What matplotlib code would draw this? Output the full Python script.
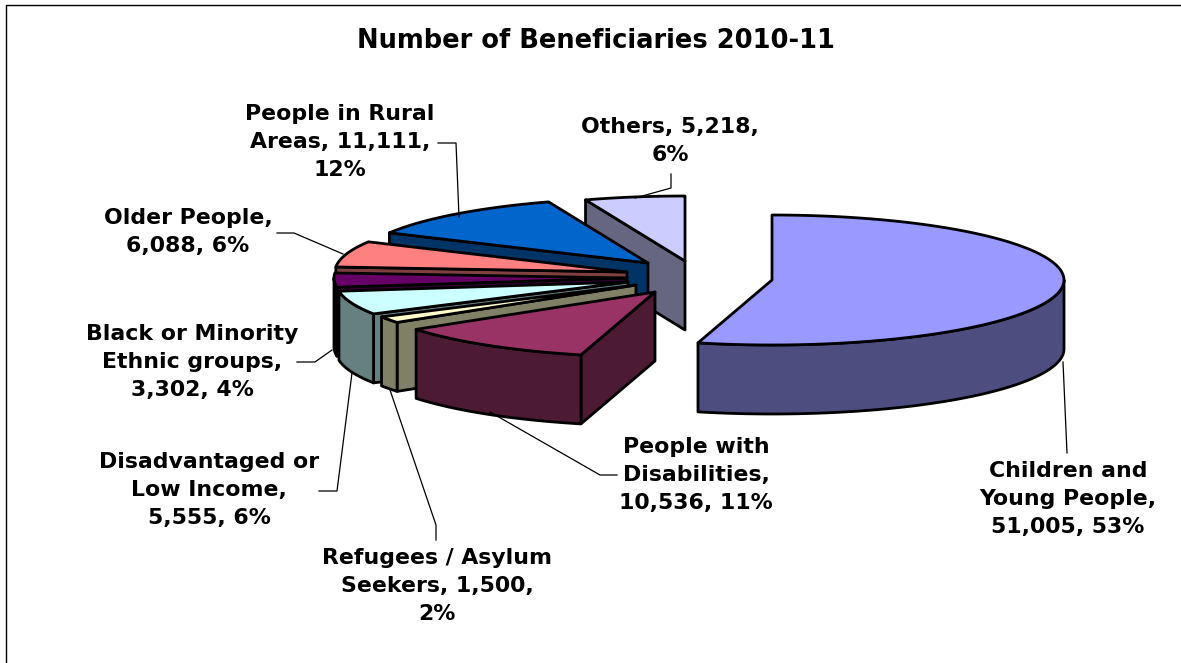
import numpy as np
import matplotlib
matplotlib.use("Agg")
import matplotlib.pyplot as plt
from matplotlib.patches import Polygon

labels = ["Children and\nYoung People,\n51,005, 53%", "People with\nDisabilities,\n10,536, 11%",
          "Refugees / Asylum\nSeekers, 1,500,\n2%", "Disadvantaged or\nLow Income,\n5,555, 6%",
          "Black or Minority\nEthnic groups,\n3,302, 4%", "Older People,\n6,088, 6%",
          "People in Rural\nAreas, 11,111,\n12%", "Others, 5,218,\n6%"]
values = [51005, 10536, 1500, 5555, 3302, 6088, 11111, 5218]

top_colors = ["#9999FF", "#993366", "#FFFFCC", "#CCFFFF", "#660066", "#FF8080", "#0066CC", "#CCCCFF"]
side_colors = ["#4D4D80", "#4D1A33", "#808066", "#668080", "#330033", "#804040", "#003366", "#666680"]

# where each slice's tip ended up after Excel's explosion, in pixels
tips = [(772, 280), (655, 292), (636, 285), (628, 282), (626, 278), (627, 272), (648, 263), (685, 261)]
label_pos = [(1068, 499), (696, 475), (437, 586), (209, 490), (192, 362), (188, 232), (340, 142), (670, 141)]
leaders = [[(1063, 362), (1067, 453)],
           [(490, 412), (600, 475), (617, 475)],
           [(390, 390), (436, 525), (436, 540)],
           [(352, 373), (337, 491), (319, 491)],
           [(332, 350), (315, 362), (297, 362)],
           [(343, 254), (294, 233), (277, 233)],
           [(459, 217), (456, 143), (438, 143)],
           [(635, 198), (671, 188), (671, 174)]]

RX, RY, DEPTH = 292, 65, 69

plt.rcParams["font.family"] = ["DejaVu Sans"]
fig = plt.figure(figsize=(11.81, 6.63), dpi=100)
ax = fig.add_axes([0, 0, 1, 1])
ax.set_xlim(0, 1181)
ax.set_ylim(663, 0)
ax.axis("off")


def rim(tip, a0, a1):
    # clockwise from 12 o'clock, squashed to the ellipse
    t = np.radians(np.linspace(a0, a1, 80))
    return np.column_stack([tip[0] + RX * np.sin(t), tip[1] - RY * np.cos(t)])


edges = np.cumsum([0] + values) / sum(values) * 360
style = dict(edgecolor="black", linewidth=2, joinstyle="round")

# back slices first, Children last
for i in [7, 6, 5, 4, 3, 2, 1, 0]:
    a0, a1 = edges[i], edges[i + 1]
    tip = tips[i]
    if a0 >= 180:
        p = rim(tip, a0, a0)[0]
        face = [tip, p, (p[0], p[1] + DEPTH), (tip[0], tip[1] + DEPTH)]
        ax.add_patch(Polygon(face, facecolor=side_colors[i], **style))
    lo, hi = max(a0, 90), min(a1, 270)
    if lo < hi:
        arc = rim(tip, lo, hi)
        wall = np.vstack([arc, (arc + [0, DEPTH])[::-1]])
        ax.add_patch(Polygon(wall, facecolor=side_colors[i], **style))
    top = np.vstack([[tip], rim(tip, a0, a1)])
    ax.add_patch(Polygon(top, facecolor=top_colors[i], **style))

for line in leaders:
    xs, ys = zip(*line)
    ax.plot(xs, ys, color="black", linewidth=0.9, zorder=1)

for text, pos in zip(labels, label_pos):
    ax.text(pos[0], pos[1], text, ha="center", va="center",
            fontsize=15.8, fontweight="bold", linespacing=1.48, color="black")

ax.text(596, 41, "Number of Beneficiaries 2010-11", ha="center", va="center",
        fontsize=18.5, fontweight="bold")

# chart area border, only top and left are inside the crop
ax.plot([5.5, 5.5, 1181], [663, 4.5, 4.5], color="black", linewidth=1)

fig.savefig("out.png", dpi=100)
